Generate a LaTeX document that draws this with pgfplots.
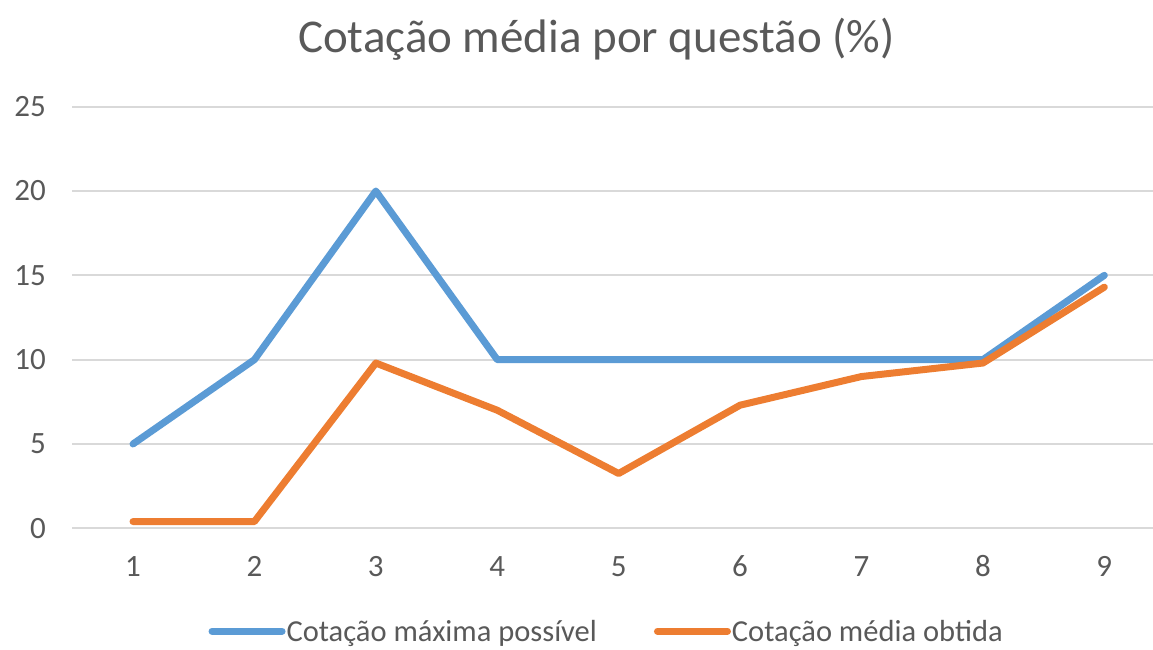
\documentclass[border=0pt]{standalone}
\usepackage{pgfplots}
\pgfplotsset{compat=1.18}
\usepackage{fontspec}
\setmainfont{Carlito}
\definecolor{cblue}{HTML}{5B9BD5}
\definecolor{corange}{HTML}{ED7D31}
\definecolor{ctext}{HTML}{595959}
\definecolor{cgrid}{HTML}{D9D9D9}
\begin{document}
\begin{tikzpicture}[x=1pt,y=1pt]
\useasboundingbox (0,0) rectangle (1153,650);
\node[text=ctext, font=\fontsize{47}{56}\selectfont] at (596.5,611) {Cotação média por questão (\%)};
\begin{axis}[
  at={(72.3pt,121.7pt)}, anchor=south west,
  scale only axis, width=1080.7pt, height=421.6pt,
  xmin=0.5, xmax=9.4, ymin=0, ymax=25,
  xtick={1,...,9}, ytick={0,5,...,25},
  axis line style={draw=none}, tick style={draw=none},
  ymajorgrids, grid style={color=cgrid, line width=2pt},
  /pgf/number format/assume math mode=true,
  ticklabel style={text=ctext, font=\fontsize{31}{36}\selectfont},
  yticklabel style={xshift=-23pt},
  xticklabel style={yshift=-25pt, text height=20pt, text depth=0pt},
  legend columns=2,
  legend style={draw=none, fill=none, at={(0.494,-0.244)}, anchor=center,
    inner sep=0pt, font=\fontsize{30.5}{35}\selectfont, text=ctext,
    nodes={inner sep=1pt},
    /tikz/every even column/.append style={column sep=56pt}},
  legend image code/.code={\draw[#1] (0pt,0pt) -- (70pt,0pt);},
  clip=false,
]
\addplot[color=cblue, line width=7pt, line cap=round, line join=round] coordinates {
(1,5) (2,10) (3,20) (4,10) (5,10) (6,10) (7,10) (8,10) (9,15)};
\addlegendentry{Cotação máxima possível}
\addplot[color=corange, line width=7pt, line cap=round, line join=round] coordinates {
(1,0.4) (2,0.4) (3,9.8) (4,7.0) (5,3.25) (6,7.3) (7,9.0) (8,9.8) (9,14.3)};
\addlegendentry{Cotação média obtida}
\end{axis}
\end{tikzpicture}
\end{document}
